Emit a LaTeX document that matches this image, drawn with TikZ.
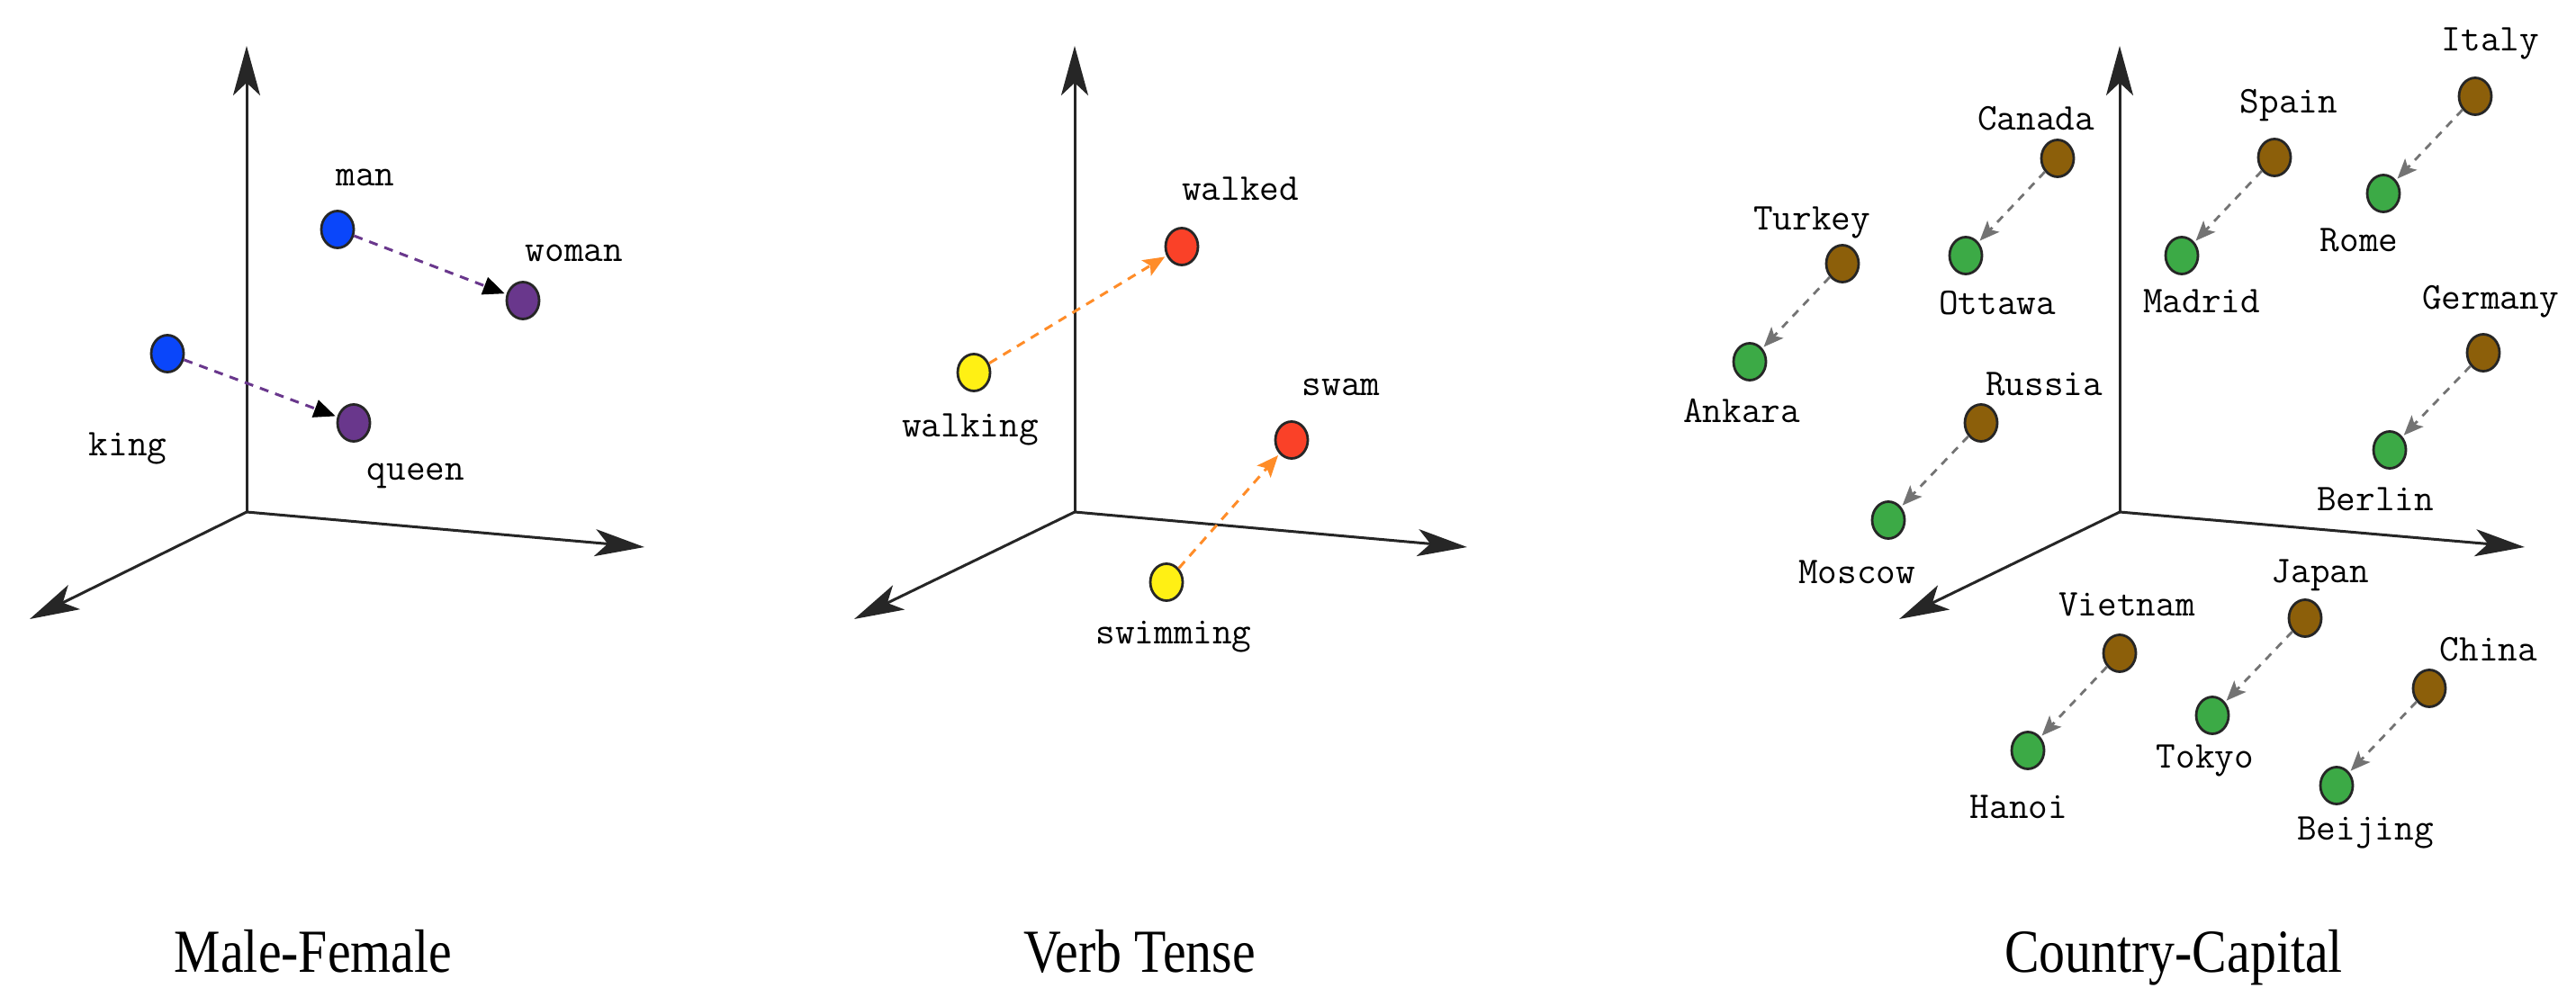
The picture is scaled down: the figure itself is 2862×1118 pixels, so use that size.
\documentclass[tikz,border=0pt]{standalone}
\usepackage{fontspec}
\usetikzlibrary{arrows.meta,shapes.geometric}
\newfontfamily\capfont{Liberation Serif}[FakeStretch=0.85]

\definecolor{manblue}{RGB}{10,70,250}
\definecolor{womanpurple}{RGB}{105,55,140}
\definecolor{walkyellow}{RGB}{255,240,20}
\definecolor{walkedred}{RGB}{250,65,40}
\definecolor{countrybrown}{RGB}{140,95,10}
\definecolor{capitalgreen}{RGB}{60,170,70}
\definecolor{tenseorange}{RGB}{255,140,40}

\begin{document}
\begin{tikzpicture}[x=1pt,y=-1pt]

\useasboundingbox (0,0) rectangle (2862,1118);

\tikzstyle{axisline}=[line width=3pt,black!85,-{Stealth[length=55pt,width=30pt,inset=14pt]}]
\tikzstyle{vec}=[draw=black!85,shape=ellipse,line width=2.8pt,minimum width=36pt,minimum height=41pt,inner sep=0pt]
\tikzstyle{word}=[font=\ttfamily\addfontfeatures{FakeBold=3}\fontsize{42}{50}\selectfont,inner sep=0pt]
\tikzstyle{paneltitle}=[font=\capfont\fontsize{68}{80}\selectfont,anchor=base,inner sep=0pt]
\tikzstyle{mfarrow}=[womanpurple,line width=3pt,dash pattern=on 10pt off 8pt,shorten >=2pt,-{Triangle[length=24pt,width=20pt,color=black]}]
\tikzstyle{tensearrow}=[tenseorange,line width=3pt,dash pattern=on 10pt off 8pt,shorten >=2pt,-{Stealth[length=24pt,width=20pt,inset=5pt]}]
\tikzstyle{caparrow}=[black!55,line width=2.8pt,dash pattern=on 9pt off 8pt,shorten >=2pt,-{Stealth[length=22pt,width=18pt,inset=5pt]}]

% Draw the three sets of axes
\foreach \p/\ox/\rx/\lx in {1/274/716/33, 2/1194/1630/949, 3/2355/2805/2110} {
  \coordinate (o\p) at (\ox,569);
  \coordinate (up\p) at (\ox,51);
  \coordinate (right\p) at (\rx,608);
  \coordinate (left\p) at (\lx,688);
  \draw[axisline] (o\p) -- (up\p);
  \draw[axisline] (o\p) -- (right\p);
  \draw[axisline] (o\p) -- (left\p);
}

% Male-Female
\node[vec,fill=manblue] (man) at (375,255) {};
\node[vec,fill=manblue] (king) at (186,393) {};
\node[vec,fill=womanpurple] (woman) at (581,334) {};
\node[vec,fill=womanpurple] (queen) at (393,470) {};
\node[word] (man-l) at (406,197) {man};
\node[word] (king-l) at (142,498) {king};
\node[word] (woman-l) at (638,281) {woman};
\node[word] (queen-l) at (462,529) {queen};
\draw[mfarrow] (man) -- (woman);
\draw[mfarrow] (king) -- (queen);

% Verb Tense
\node[vec,fill=walkyellow] (walking) at (1082,414) {};
\node[vec,fill=walkyellow] (swimming) at (1296,647) {};
\node[vec,fill=walkedred] (walked) at (1313,274) {};
\node[vec,fill=walkedred] (swam) at (1435,489) {};
\node[word] (walking-l) at (1078,477) {walking};
\node[word] (swimming-l) at (1304,708) {swimming};
\node[word] (walked-l) at (1378,210) {walked};
\node[word] (swam-l) at (1490,430) {swam};
\draw[tensearrow] (walking) -- (walked);
\draw[tensearrow] (swimming) -- (swam);

% Country-Capital
\foreach \name/\x/\y/\lx/\ly in {Canada/2286/176/2262/132, Spain/2527/175/2543/117,
    Italy/2750/107/2767/48, Turkey/2047/293/2013/247, Germany/2759/392/2767/335,
    Russia/2201/470/2271/427, Vietnam/2355/726/2363/672, Japan/2561/687/2578/639,
    China/2699/765/2765/722} {
  \node[vec,fill=countrybrown] (\name) at (\x,\y) {};
  \node[word] (\name-l) at (\lx,\ly) {\name};
}
\foreach \name/\x/\y/\lx/\ly in {Ottawa/2184/284/2219/337, Madrid/2424/284/2446/335,
    Rome/2648/215/2621/267, Ankara/1944/402/1935/456, Berlin/2655/500/2639/555,
    Moscow/2098/578/2063/636, Hanoi/2253/834/2243/897, Tokyo/2458/795/2450/845,
    Beijing/2596/873/2628/925} {
  \node[vec,fill=capitalgreen] (\name) at (\x,\y) {};
  \node[word] (\name-l) at (\lx,\ly) {\name};
}
\foreach \a/\b in {Canada/Ottawa, Spain/Madrid, Italy/Rome, Turkey/Ankara,
    Germany/Berlin, Russia/Moscow, Vietnam/Hanoi, Japan/Tokyo, China/Beijing}
  \draw[caparrow] (\a) -- (\b);

% Panel titles
\node[paneltitle] (t1) at (348,1080) {Male-Female};
\node[paneltitle] (t2) at (1266,1080) {Verb Tense};
\node[paneltitle] (t3) at (2415,1080) {Country-Capital};

\end{tikzpicture}
\end{document}
